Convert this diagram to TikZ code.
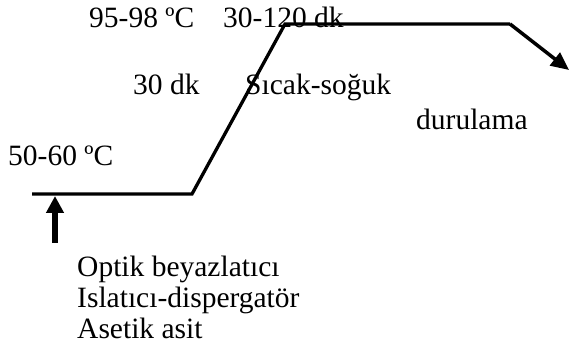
\documentclass[tikz,border=0pt]{standalone}
\usepackage{fontspec}
\setmainfont{Liberation Serif}
\usetikzlibrary{arrows.meta}
\begin{document}
\begin{tikzpicture}[x=1pt,y=-1pt,
  lbl/.style={anchor=base west,inner sep=0pt,font=\fontsize{29.5}{31.5}\selectfont},
  curve/.style={line width=3.3pt,line cap=butt},
  feed/.style={line width=5.5pt,-{Triangle[width=17pt,length=17pt]}},
  outflow/.style={line width=3.5pt,-{Triangle[width=16pt,length=18pt]}}]
\useasboundingbox (0,0) rectangle (569,352);
% temperature profile
\coordinate (s0) at (32,194);
\coordinate (s1) at (192,194);
\coordinate (s2) at (285,24);
\coordinate (s3) at (510,24);
\coordinate (s4) at (569,70);
\draw[curve,line join=miter] (s0) -- (s1) -- (s2) -- (s3);
\draw[outflow] (s3) -- (s4);
% chemicals added at the start
\coordinate (f0) at (55,243);
\coordinate (f1) at (55,196);
\draw[feed] (f0) -- (f1);
% labels
\node[lbl] (t1) at (89,28) {95-98 ºC};
\node[lbl] (t2) at (223,28) {30-120 dk};
\node[lbl] (t3) at (133,95) {30 dk};
\node[lbl] (t4) at (245,95) {Sıcak-soğuk};
\node[lbl] (t5) at (416,130) {durulama};
\node[lbl] (t6) at (8,166) {50-60 ºC};
\node[lbl] (t7) at (77,276) {Optik beyazlatıcı};
\node[lbl] (t8) at (77,307) {Islatıcı-dispergatör};
\node[lbl] (t9) at (77,338) {Asetik asit};
\end{tikzpicture}
\end{document}
